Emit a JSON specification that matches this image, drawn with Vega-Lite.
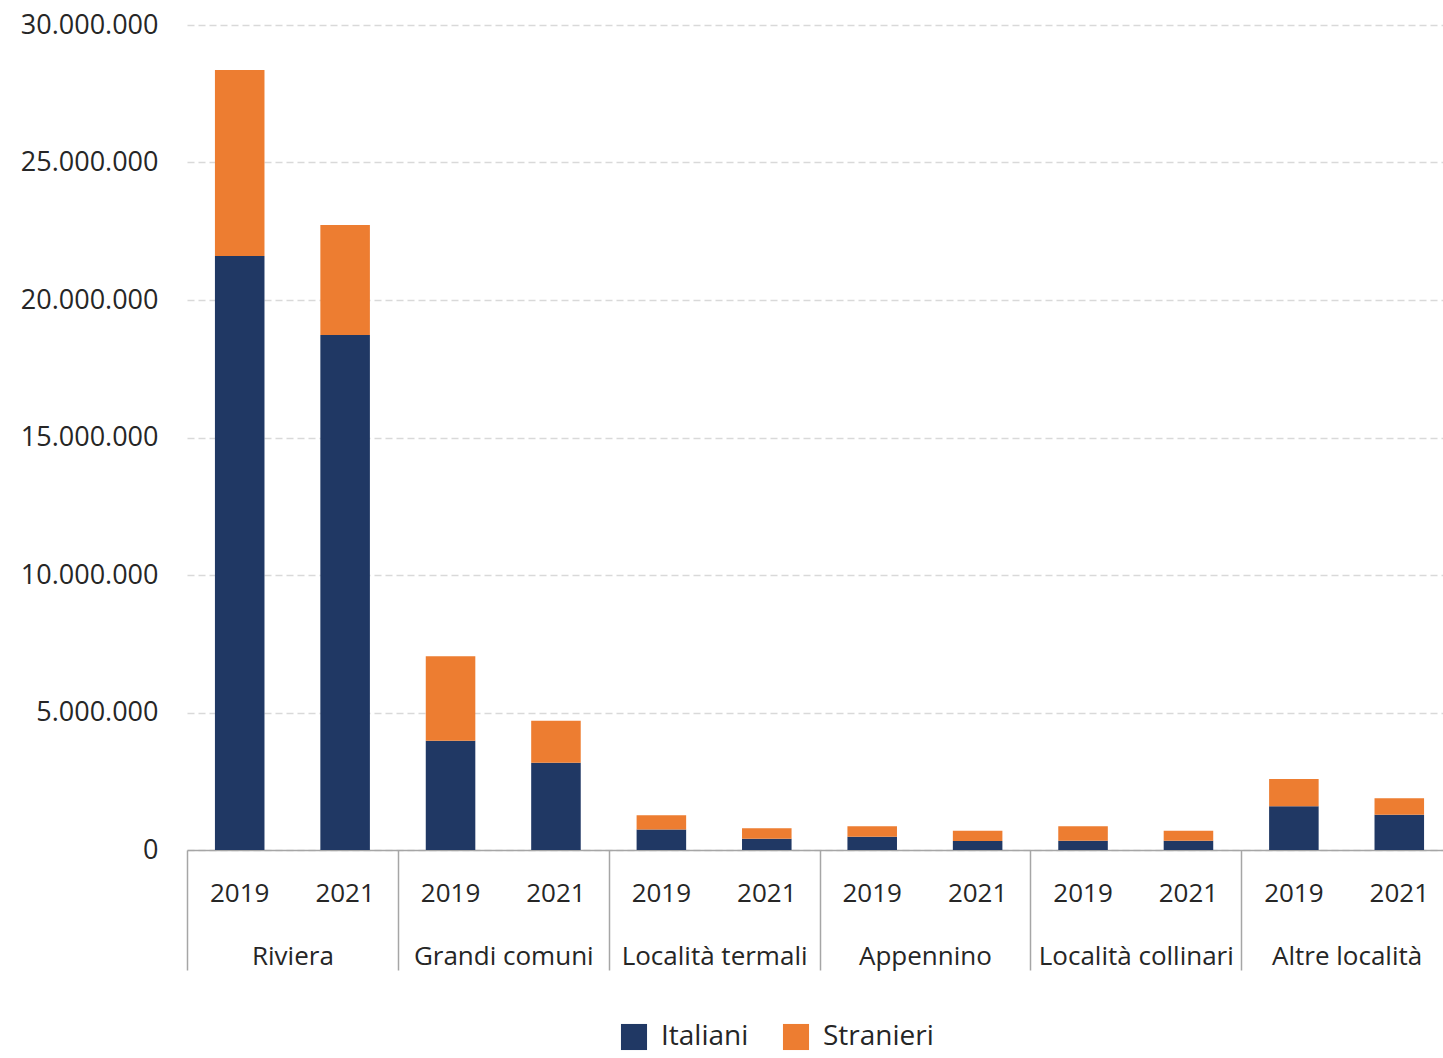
{
  "$schema": "https://vega.github.io/schema/vega-lite/v6.json",
  "width": 1265,
  "height": 825,
  "autosize": {"type": "none"},
  "padding": {"left": 187, "top": 25, "right": -9, "bottom": 208},
  "config": {
    "view": {"stroke": null},
    "font": "Open Sans",
    "locale": {"number": {"decimal": ",", "thousands": ".", "grouping": [3], "currency": ["", " €"]}}
  },
  "data": {"values": [
    {"group": "Riviera", "year": "2019", "key": "Riviera 2019", "tipo": "Italiani", "value": 21600000},
    {"group": "Riviera", "year": "2019", "key": "Riviera 2019", "tipo": "Stranieri", "value": 6760000},
    {"group": "Riviera", "year": "2021", "key": "Riviera 2021", "tipo": "Italiani", "value": 18730000},
    {"group": "Riviera", "year": "2021", "key": "Riviera 2021", "tipo": "Stranieri", "value": 4000000},
    {"group": "Grandi comuni", "year": "2019", "key": "Grandi comuni 2019", "tipo": "Italiani", "value": 3970000},
    {"group": "Grandi comuni", "year": "2019", "key": "Grandi comuni 2019", "tipo": "Stranieri", "value": 3080000},
    {"group": "Grandi comuni", "year": "2021", "key": "Grandi comuni 2021", "tipo": "Italiani", "value": 3170000},
    {"group": "Grandi comuni", "year": "2021", "key": "Grandi comuni 2021", "tipo": "Stranieri", "value": 1530000},
    {"group": "Località termali", "year": "2019", "key": "Località termali 2019", "tipo": "Italiani", "value": 750000},
    {"group": "Località termali", "year": "2019", "key": "Località termali 2019", "tipo": "Stranieri", "value": 510000},
    {"group": "Località termali", "year": "2021", "key": "Località termali 2021", "tipo": "Italiani", "value": 410000},
    {"group": "Località termali", "year": "2021", "key": "Località termali 2021", "tipo": "Stranieri", "value": 380000},
    {"group": "Appennino", "year": "2019", "key": "Appennino 2019", "tipo": "Italiani", "value": 480000},
    {"group": "Appennino", "year": "2019", "key": "Appennino 2019", "tipo": "Stranieri", "value": 380000},
    {"group": "Appennino", "year": "2021", "key": "Appennino 2021", "tipo": "Italiani", "value": 330000},
    {"group": "Appennino", "year": "2021", "key": "Appennino 2021", "tipo": "Stranieri", "value": 370000},
    {"group": "Località collinari", "year": "2019", "key": "Località collinari 2019", "tipo": "Italiani", "value": 340000},
    {"group": "Località collinari", "year": "2019", "key": "Località collinari 2019", "tipo": "Stranieri", "value": 520000},
    {"group": "Località collinari", "year": "2021", "key": "Località collinari 2021", "tipo": "Italiani", "value": 340000},
    {"group": "Località collinari", "year": "2021", "key": "Località collinari 2021", "tipo": "Stranieri", "value": 360000},
    {"group": "Altre località", "year": "2019", "key": "Altre località 2019", "tipo": "Italiani", "value": 1590000},
    {"group": "Altre località", "year": "2019", "key": "Altre località 2019", "tipo": "Stranieri", "value": 990000},
    {"group": "Altre località", "year": "2021", "key": "Altre località 2021", "tipo": "Italiani", "value": 1280000},
    {"group": "Altre località", "year": "2021", "key": "Altre località 2021", "tipo": "Stranieri", "value": 600000}
  ]},
  "layer": [
    {
      "mark": {"type": "bar", "width": {"band": 0.47}},
      "encoding": {
        "x": {
          "field": "key", "type": "nominal", "sort": null,
          "scale": {"paddingInner": 0, "paddingOuter": 0},
          "axis": {
            "title": null, "orient": "bottom", "labelAngle": 0, "ticks": false,
            "domain": true, "domainColor": "#a6a6a6", "domainWidth": 1.5,
            "labelExpr": "slice(datum.label, -4)",
            "labelFont": "Open Sans", "labelFontSize": 26, "labelColor": "#262626",
            "labelPadding": 30, "grid": false
          }
        },
        "y": {
          "field": "value", "type": "quantitative", "stack": "zero",
          "scale": {"domain": [0, 30000000], "nice": false},
          "axis": {
            "title": null, "values": [0, 5000000, 10000000, 15000000, 20000000, 25000000, 30000000],
            "format": ",d", "domain": false, "ticks": false,
            "grid": true, "gridDash": [7, 4], "gridColor": "#d9d9d9", "gridWidth": 1.5,
            "labelFont": "Open Sans", "labelFontSize": 27, "labelColor": "#262626", "labelPadding": 29
          }
        },
        "color": {
          "field": "tipo", "type": "nominal",
          "scale": {"domain": ["Italiani", "Stranieri"], "range": ["#203864", "#ED7D31"]},
          "legend": {
            "title": null, "orient": "none", "direction": "horizontal",
            "legendX": 433, "legendY": 998,
            "symbolType": "square", "symbolSize": 680, "symbolStrokeWidth": 0,
            "labelFont": "Open Sans", "labelFontSize": 28, "labelColor": "#262626",
            "labelOffset": 13, "columnPadding": 33, "labelLimit": 0
          }
        },
        "order": {"field": "tipo", "type": "nominal", "sort": "ascending"}
      }
    },
    {
      "mark": {"type": "point", "opacity": 0},
      "encoding": {
        "x": {
          "field": "group", "type": "nominal", "sort": null,
          "scale": {"paddingInner": 0, "paddingOuter": 0},
          "axis": {
            "title": null, "orient": "bottom", "labelAngle": 0, "domain": false,
            "ticks": true, "tickBand": "extent", "tickSize": 120, "tickColor": "#a6a6a6", "tickWidth": 1.5,
            "labelFont": "Open Sans", "labelFontSize": 26, "labelColor": "#262626",
            "labelPadding": -27, "labelLimit": 0, "grid": false
          }
        }
      }
    }
  ],
  "resolve": {"scale": {"x": "independent"}, "axis": {"x": "independent"}}
}
